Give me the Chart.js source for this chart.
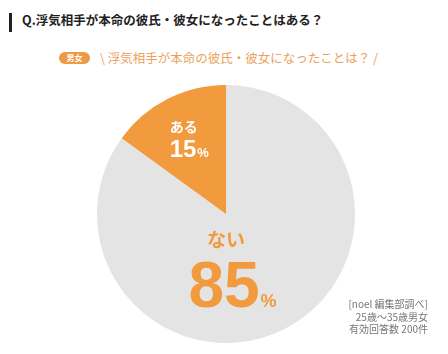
<!DOCTYPE html>
<html lang="ja">
<head>
<meta charset="utf-8">
<script src="https://cdn.jsdelivr.net/npm/chart.js@4/dist/chart.umd.min.js"></script>
<style>
  body { margin: 0; width: 448px; height: 354px; background: #fff; position: relative; overflow: hidden;
         font-family: "Noto Sans CJK JP", "Noto Sans", sans-serif; }
  #bar { position: absolute; left: 9px; top: 13px; width: 3px; height: 19px; background: #222; }
  #title { position: absolute; left: 22px; top: 10px; font-size: 12.5px; font-weight: bold; color: #222; white-space: nowrap; }
  #badge { position: absolute; left: 59px; top: 52px; width: 31px; height: 12px; border-radius: 6px; background: #EC9A45;
           color: #fff; font-size: 8px; font-weight: bold; text-align: center; line-height: 12px; }
  #sub { position: absolute; left: 100px; top: 48px; font-size: 12.5px; color: #EBA25C; white-space: nowrap; }
  #chartBox { position: absolute; left: 97px; top: 85px; width: 258px; height: 258px; }
  #note { position: absolute; right: 20px; top: 298px; font-size: 10px; line-height: 12.5px; color: #777; text-align: right; white-space: nowrap; }
</style>
</head>
<body>
<div id="bar"></div>
<div id="title">Q.浮気相手が本命の彼氏・彼女になったことはある？</div>
<div id="badge">男女</div>
<div id="sub">\ 浮気相手が本命の彼氏・彼女になったことは？ /</div>
<div id="chartBox"><canvas id="pie" width="258" height="258"></canvas></div>
<div id="note">[noel 編集部調べ]<br>25歳〜35歳男女<br>有効回答数 200件</div>
<script>
// answers, clockwise from the top
const labels = ["ない", "ある"];
const values = [85, 15];
const colors = ["#E4E4E4", "#F19A3E"];

// label placement for each slice (relative to pie centre)
const labelStyle = [
    { text: "#F19A3E", nameSize: 19, numSize: 64, pctSize: 18, dx: 4, dy: 26, gap: 67 },
    { text: "#ffffff", nameSize: 14, numSize: 24, pctSize: 13, dx: null, dy: null, gap: 30 }
];

const sliceLabels = {
    id: "sliceLabels",
    afterDatasetsDraw(chart) {
        const ctx = chart.ctx;
        const arcs = chart.getDatasetMeta(0).data;
        arcs.forEach((arc, i) => {
            const st = labelStyle[i];
            let x, y;
            if (st.dx === null) {
                // along the middle of the slice
                const mid = (arc.startAngle + arc.endAngle) / 2;
                x = arc.x + Math.cos(mid) * arc.outerRadius * 0.67;
                y = arc.y + Math.sin(mid) * arc.outerRadius * 0.67 - 10;
            } else {
                x = arc.x + st.dx;
                y = arc.y + st.dy;
            }
            ctx.save();
            ctx.fillStyle = st.text;
            ctx.textBaseline = "middle";
            ctx.textAlign = "center";
            ctx.font = `bold ${st.nameSize}px "Noto Sans CJK JP"`;
            ctx.fillText(labels[i], x - (i === 0 ? 4 : 3), y);

            // number + small %
            const num = String(values[i]);
            ctx.textBaseline = "alphabetic";
            ctx.textAlign = "left";
            ctx.font = `bold ${st.numSize}px "Liberation Sans"`;
            const wNum = ctx.measureText(num).width;
            ctx.font = `bold ${st.pctSize}px "Liberation Sans"`;
            const wPct = ctx.measureText("%").width;
            const left = x - (wNum + wPct) / 2 + 2;
            const base = y + st.gap;
            ctx.font = `bold ${st.numSize}px "Liberation Sans"`;
            ctx.fillText(num, left, base);
            ctx.font = `bold ${st.pctSize}px "Liberation Sans"`;
            ctx.fillText("%", left + wNum + 1, base);
            ctx.restore();
        });
    }
};

new Chart(document.getElementById("pie"), {
    type: "pie",
    data: {
        labels: labels,
        datasets: [{
            data: values,
            backgroundColor: colors,
            borderWidth: 0
        }]
    },
    options: {
        responsive: false,
        animation: false,
        layout: { padding: 0 },
        plugins: {
            legend: { display: false },
            tooltip: { enabled: false }
        }
    },
    plugins: [sliceLabels]
});
</script>
</body>
</html>
